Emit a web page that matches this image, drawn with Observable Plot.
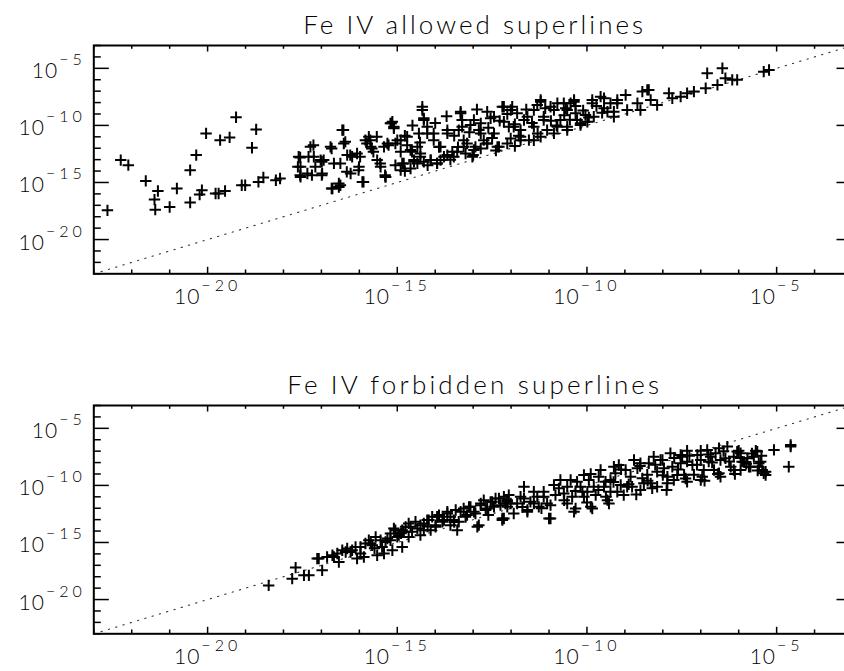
<!DOCTYPE html>
<html><head><meta charset="utf-8">
<script src="https://cdn.jsdelivr.net/npm/d3@7"></script>
<script src="https://cdn.jsdelivr.net/npm/@observablehq/plot@0.6"></script>
<style>
html,body{margin:0;padding:0;background:#fff;overflow:hidden;width:844px;height:671px;}
.panel{position:absolute;left:0;}
.panel svg{max-width:none !important;}
</style></head><body>
<div id="p1" class="panel" style="top:0px"></div>
<div id="p2" class="panel" style="top:330px"></div>
<script>
// ---- data (log10 of values) ----
const allowedLogX = [-22.64,-22.29,-22.09,-21.63,-21.31,-21.40,-21.38,-21.00,-20.81,-20.46,-20.46,-20.30,-20.04,-20.21,-20.15,-19.79,-19.71,-19.54,-19.67,-19.42,-19.25,-18.83,-18.72,-19.10,-19.01,-18.66,-18.53,-18.20,-18.09,-17.56,-17.62,-17.56,-17.34,-17.21,-17.25,-16.99,-16.99,-16.73,-16.50,-16.73,-16.42,-16.37,-16.50,-16.24,-15.98,-15.89,-16.02,-15.71,-15.67,-15.45,-15.32,-15.23,-15.16,-16.33,-16.06,-16.23,-16.94,-17.37,-16.54,-15.80,-15.63,-15.54,
-15.31,-15.35,-15.13,-15.09,-15.00,-14.91,-15.05,-14.83,-14.74,-14.61,-14.56,-14.43,-14.34,-14.30,-14.21,-14.39,-14.12,-14.04,-13.95,-13.77,-13.68,-13.55,-13.33,-13.29,-13.38,-13.25,-13.20,-13.07,-12.94,-12.80,-12.72,-12.63,-12.54,-12.45,-12.36,-12.23,-12.19,-12.06,-12.01,-11.97,-11.84,-11.75,-11.66,-11.53,-11.40,-11.31,-11.22,-11.14,-11.05,-10.87,-10.78,-10.70,-10.56,-10.52,-10.34,-10.30,-10.17,-9.86,-9.82,-9.64,-9.55,-9.38,-9.29,
-14.91,-14.65,-14.47,-14.30,-13.86,-13.68,-13.42,-13.25,-12.98,-12.80,-12.63,-12.10,-11.75,-11.22,-10.87,-10.52,-10.17,-9.99,
-9.55,-9.46,-9.29,-9.20,-8.98,-8.94,-8.67,-8.59,-8.41,-8.32,-8.15,-7.84,-7.75,-7.53,-7.36,-7.18,-6.87,-6.83,-6.56,-6.43,-6.35,-6.17,-6.04,-5.34,-5.20,-10.52,-10.43,-10.04,-9.86,-9.20,-8.54,-8.37,
-17.60,-17.55,-17.55,-17.29,-17.20,-17.16,-17.02,-16.98,-16.76,-16.67,-16.71,-16.54,-16.45,-16.41,-16.32,-16.19,-16.01,-15.92,-15.84,-15.75,-15.70,-15.53,-15.44,-15.31,-15.26,-15.18,-15.09,-15.05,-14.91,-14.87,-14.74,-14.65,-14.56,-14.47,-14.39,-14.34,-14.30,-14.21,-14.12,-14.04,-13.95,-13.86,-13.68,-13.51,-13.33,-13.29,-13.16,-13.02,-12.98,-12.80,-12.63,-12.45,-12.32,-12.19,-12.01,-11.93,-11.75,-11.57,-11.40,-11.22,-11.14,-10.96,-10.78,-10.61,-10.34,-10.26,
-14.80,-14.60,-14.40,-14.00,-13.90,-13.70,-13.50,-13.40,-13.10,-12.90,-12.85,-12.60,-12.50,-12.30,-12.10,-11.90,-11.80,-11.60,-11.45,-11.30,-11.10,-10.95,-10.80,-10.60,-10.45,-10.30,-10.10,-9.95,-9.75,-9.60,
-14.80,-14.20,-13.60,-13.00,-12.40,-11.90,-11.40];
const allowedLogY = [-17.44,-13.04,-13.48,-14.86,-15.74,-16.50,-17.38,-17.15,-15.53,-16.76,-13.92,-12.60,-10.70,-16.06,-15.68,-15.97,-15.97,-15.74,-11.29,-11.05,-9.29,-11.96,-10.35,-15.24,-15.24,-14.95,-14.56,-14.80,-14.65,-14.36,-13.63,-12.81,-12.75,-11.73,-14.36,-14.36,-13.19,-15.53,-15.24,-12.02,-10.41,-11.44,-13.33,-12.60,-12.75,-14.95,-13.92,-11.29,-12.02,-13.33,-14.36,-11.73,-9.82,-14.07,-12.46,-14.21,-13.04,-14.21,-15.09,-11.58,-12.31,-11.00,
-14.51,-11.88,-9.68,-10.26,-11.29,-12.31,-13.48,-13.33,-11.73,-12.31,-13.19,-10.70,-8.36,-9.53,-10.12,-12.75,-13.04,-10.70,-13.33,-12.75,-10.41,-12.31,-8.80,-9.53,-10.41,-11.29,-12.46,-9.97,-11.88,-9.82,-11.29,-8.80,-9.38,-10.70,-11.88,-8.36,-9.68,-10.12,-11.14,-8.36,-8.94,-10.41,-9.53,-11.29,-10.12,-8.21,-7.92,-9.24,-10.41,-8.65,-8.06,-9.53,-8.50,-10.12,-7.92,-8.94,-9.82,-8.06,-9.24,-7.48,-8.50,-8.06,-8.80,
-13.92,-13.77,-13.33,-13.19,-13.04,-12.60,-12.31,-11.88,-12.16,-12.02,-11.58,-11.58,-11.29,-11.00,-10.70,-10.41,-9.97,-9.68,
-7.62,-8.80,-9.24,-8.06,-7.33,-8.65,-8.06,-8.65,-6.89,-7.77,-8.21,-7.18,-7.62,-7.48,-7.18,-7.04,-6.74,-5.43,-6.45,-4.99,-5.87,-6.01,-6.01,-5.29,-5.14,-8.65,-8.06,-9.09,-7.77,-7.77,-7.04,-6.89,
-12.75,-13.63,-14.51,-11.88,-12.75,-13.63,-13.04,-14.21,-11.88,-13.33,-15.53,-15.39,-10.41,-11.58,-12.60,-12.75,-13.63,-14.95,-11.29,-11.00,-11.88,-13.04,-13.63,-14.51,-11.58,-9.82,-10.12,-11.58,-11.29,-13.33,-11.00,-12.16,-13.04,-11.88,-12.46,-8.65,-9.38,-10.70,-13.04,-11.29,-13.33,-11.88,-10.70,-12.75,-8.94,-10.12,-11.58,-12.75,-9.53,-10.70,-11.58,-9.24,-11.88,-8.36,-8.65,-10.12,-11.00,-9.24,-8.65,-7.77,-9.53,-8.36,-10.12,-8.06,-7.77,-9.53,
-10.90,-10.00,-11.50,-9.80,-11.90,-9.20,-10.90,-11.90,-10.60,-8.60,-10.40,-10.20,-11.10,-9.60,-9.00,-9.90,-10.90,-8.60,-9.80,-10.70,-8.50,-9.60,-10.00,-9.10,-9.50,-8.30,-8.70,-9.30,-8.30,-8.90,
-14.00,-13.50,-13.00,-12.60,-12.20,-11.80,-11.30];

const forbiddenLogX = [-18.39,-17.77,-17.68,-17.46,-17.33,-16.98,-17.07,-16.67,-16.54,-16.36,-16.19,-16.06,-15.97,-15.88,-15.70,-15.57,-15.53,-15.35,-15.31,-15.18,-15.13,-15.05,-15.00,-14.87,-14.83,-14.70,-14.65,-14.47,-14.39,-14.30,-14.21,-14.12,-13.99,-13.95,-13.81,-13.68,-13.60,-13.51,-13.42,-13.33,-13.20,-13.11,-12.98,-12.85,-12.80,-12.67,-12.54,-12.45,-12.32,-12.23,-12.15,-12.06,
-12.19,-11.93,-12.10,-11.75,-11.57,-11.40,-11.27,-10.96,-10.96,-10.87,-10.61,-10.43,-10.30,-10.17,-10.08,-9.90,-9.82,-9.64,-9.46,-9.38,-9.16,-9.03,-8.85,-8.76,-8.59,-8.41,-8.24,-8.15,-7.97,-7.80,-7.71,-7.53,-7.36,-7.18,-7.00,-6.83,-6.65,-6.52,-6.48,-6.30,-6.21,-6.00,-5.86,-5.77,-5.55,-5.47,-5.34,-5.29,-5.07,-4.63,-4.68,-6.48,-7.00,-8.50,-9.20,-10.08,
-12.89,-12.23,-11.57,-11.00,-10.34,-9.86,-9.42,-5.29,
-12.01,-11.14,-10.70,-10.52,-9.99,-9.55,-9.29,-8.94,-8.59,-8.32,-8.06,-7.88,-7.44,-7.36,-6.92,-6.74,-6.13,-5.95,-5.69,-5.42,-7.00,-7.53,-11.40,-11.66,-5.95,-5.51,-4.63,
-17.11,-16.85,-16.71,-16.58,-16.45,-16.32,-16.23,-16.10,-15.97,-15.84,-15.75,-15.66,-15.44,-15.40,-15.26,-15.18,-15.09,-14.96,-14.87,-14.78,-14.70,-14.61,-14.52,-14.39,-14.30,-14.17,-14.08,-13.99,-13.90,-13.77,-13.68,-13.60,-13.46,-13.38,-13.25,-13.16,-13.07,-12.94,-12.80,-12.72,-12.63,-12.50,-12.41,-12.28,-12.19,-12.10,
-12.10,-11.84,-11.66,-11.49,-11.31,-11.14,-11.05,-10.83,-10.74,-10.52,-10.39,-10.26,-10.12,-9.95,-9.77,-9.69,-9.51,-9.38,-9.25,-9.11,-8.98,-8.81,-8.67,-8.54,-8.37,-8.28,-8.15,-8.01,-7.88,-7.75,-7.62,-7.49,-7.36,-7.22,-7.09,-6.96,-6.79,-6.61,-6.52,-6.35,-6.13,-6.04,-5.91,-5.73,-5.60,-5.47,-5.38,
-9.90,-9.70,-9.50,-9.30,-9.10,-8.90,-8.70,-8.60,-8.40,-8.20,-8.00,-7.90,-7.70,-7.60,-7.40,-7.30,-7.10,-6.90,-6.80,-6.70,-6.55,-6.40,-6.25,-6.10,-5.95,-5.80,-5.65,-5.50,-5.40,-10.60,-10.30,-10.00,-11.20,-11.70,-12.60,-13.50,-14.20,-14.90,-15.60];
const forbiddenLogY = [-18.76,-18.17,-17.20,-17.88,-17.88,-17.44,-16.41,-16.27,-16.71,-15.83,-15.68,-16.41,-15.39,-16.27,-15.09,-14.51,-16.12,-15.97,-14.95,-14.80,-15.68,-13.92,-14.51,-15.39,-14.07,-14.51,-13.63,-13.77,-14.36,-13.33,-13.04,-13.92,-13.48,-12.75,-13.19,-12.46,-13.48,-13.04,-13.92,-12.31,-12.75,-11.88,-12.31,-13.48,-11.58,-12.16,-11.44,-11.88,-11.14,-12.90,-11.58,-10.85,
-12.90,-12.46,-11.29,-11.00,-12.31,-10.56,-11.88,-12.90,-11.73,-9.97,-10.70,-9.53,-12.02,-10.12,-9.09,-11.88,-10.12,-8.65,-11.29,-9.53,-8.21,-10.85,-9.24,-7.77,-10.41,-9.06,-7.48,-10.12,-8.50,-7.18,-9.53,-8.06,-6.96,-9.06,-7.77,-6.89,-8.65,-6.74,-7.77,-6.60,-8.36,-6.96,-7.94,-7.62,-6.96,-8.36,-8.94,-8.80,-6.89,-6.45,-8.36,-9.24,-9.53,-9.82,-10.56,-11.00,
-13.63,-13.04,-12.16,-12.90,-12.31,-12.02,-11.58,-9.09,
-11.58,-11.00,-9.53,-11.58,-10.56,-10.12,-8.36,-10.12,-8.06,-9.82,-7.77,-9.24,-9.06,-7.92,-8.65,-7.48,-7.48,-8.65,-8.36,-7.92,-6.96,-7.33,-11.58,-10.12,-7.18,-7.04,-6.60,
-16.41,-16.27,-16.12,-15.97,-15.68,-15.53,-15.83,-15.39,-15.97,-15.09,-14.80,-15.24,-14.80,-15.39,-14.65,-14.21,-13.77,-14.36,-13.92,-13.63,-13.33,-14.07,-13.19,-13.48,-13.92,-13.04,-12.75,-13.63,-12.60,-13.04,-12.31,-12.75,-12.16,-13.19,-12.02,-12.60,-11.88,-12.46,-11.73,-11.29,-12.02,-11.44,-11.14,-11.73,-11.00,-11.44,
-11.88,-11.58,-11.14,-11.44,-11.00,-10.56,-11.58,-10.85,-10.26,-10.12,-11.00,-9.68,-10.56,-9.53,-10.85,-9.24,-9.68,-10.56,-8.94,-9.97,-8.65,-10.12,-8.50,-9.38,-8.06,-10.26,-8.80,-7.77,-9.82,-8.36,-9.09,-7.48,-9.68,-8.21,-7.33,-9.24,-7.92,-7.18,-8.94,-7.62,-8.65,-7.04,-7.92,-8.36,-7.48,-8.06,-8.65,
-9.00,-10.40,-11.00,-9.70,-8.60,-9.90,-10.80,-8.30,-9.60,-8.20,-9.10,-10.40,-7.60,-8.60,-9.40,-7.40,-8.20,-9.60,-7.30,-8.00,-9.00,-7.00,-7.90,-9.00,-7.60,-8.10,-7.20,-8.70,-7.40,-11.30,-10.50,-11.50,-12.00,-11.90,-12.60,-13.20,-13.60,-14.20,-15.50];

const axisLimits = [1e-23, 1e-3];
const majorTickExponents = [-20, -15, -10, -5];
const minorTickExponents = [-23, -22, -21, -19, -18, -17, -16, -14, -13, -12, -11, -9, -8, -7, -6, -4, -3];
const panelTitles = ["Fe IV allowed superlines", "Fe IV forbidden superlines"];

// ---- drawing ----
const FONT = '"Lato", "DejaVu Sans", sans-serif';
const plusSymbol = {
  draw(context, size) {
    const r = Math.sqrt(size / Math.PI);
    context.moveTo(-r, 0); context.lineTo(r, 0);
    context.moveTo(0, -r); context.lineTo(0, r);
  }
};
const fmtExp = e => `10^${e < 0 ? "\u2212" : ""}${Math.abs(e)}`;

function panel(el, title, lx, ly, cfg) {
  const W = 860, ML = 93.3, MR = W - 852;
  const plotH = 228.3, plotW = W - ML - MR;
  const MT = cfg.marginTop, H = cfg.height, MB = H - MT - plotH;
  const data = lx.map((v, i) => ({x: 10 ** v, y: 10 ** ly[i]}));
  const majors = majorTickExponents.map(e => 10 ** e);
  const minors = minorTickExponents.map(e => 10 ** e);
  const tk = {stroke: "black", strokeWidth: 1.5};
  const svg = Plot.plot({
    width: W, height: H,
    marginLeft: ML, marginRight: MR, marginTop: MT, marginBottom: MB,
    style: {fontFamily: FONT, fontWeight: "300", background: "white", maxWidth: "none", overflow: "visible", color: "black"},
    x: {type: "log", domain: axisLimits, axis: null},
    y: {type: "log", domain: axisLimits, axis: null},
    marks: [
      Plot.line(axisLimits, {x: d => d, y: d => d, stroke: "#333", strokeWidth: 1.1, strokeDasharray: "1.3 6.3"}),
      Plot.dot(data, {x: "x", y: "y", r: 5.7, symbol: plusSymbol, stroke: "black", strokeWidth: 2, fill: "none"}),
      Plot.tickX(majors, {x: d => d, insetTop: plotH - 6.5, ...tk}),
      Plot.tickX(minors, {x: d => d, insetTop: plotH - 3.8, ...tk}),
      Plot.tickX(majors, {x: d => d, insetBottom: plotH - 6.5, ...tk}),
      Plot.tickX(minors, {x: d => d, insetBottom: plotH - 3.8, ...tk}),
      Plot.tickY(majors, {y: d => d, insetRight: plotW - 15.5, ...tk}),
      Plot.tickY(minors, {y: d => d, insetRight: plotW - 7.5, ...tk}),
      Plot.tickY(majors, {y: d => d, insetLeft: plotW - 15.5, ...tk}),
      Plot.tickY(minors, {y: d => d, insetLeft: plotW - 7.5, ...tk}),
      Plot.frame({stroke: "black", strokeWidth: 2}),
      Plot.text(majorTickExponents, {x: e => 10 ** e, text: fmtExp, frameAnchor: "bottom", dy: 30, lineAnchor: "bottom", textAnchor: "middle", fontSize: 21}),
      Plot.text(majorTickExponents, {y: e => 10 ** e, text: fmtExp, frameAnchor: "left", dx: -8, dy: 10, lineAnchor: "bottom", textAnchor: "end", fontSize: 21}),
      Plot.text([title], {frameAnchor: "top", dy: -12, lineAnchor: "bottom", fontSize: 26})
    ]
  });
  svg.querySelectorAll("text").forEach(t => {
    const s = t.textContent;
    if (s.includes("^")) {
      const [base, exp] = s.split("^");
      t.textContent = base;
      t.setAttribute("letter-spacing", "1");
      const ts = document.createElementNS("http://www.w3.org/2000/svg", "tspan");
      ts.setAttribute("dy", "-13");
      ts.setAttribute("dx", "1");
      ts.setAttribute("font-size", "16");
      ts.setAttribute("letter-spacing", "4");
      ts.textContent = exp;
      t.appendChild(ts);
    } else if (s === title) {
      t.setAttribute("textLength", cfg.titleWidth);
      t.setAttribute("lengthAdjust", "spacing");
    }
  });
  document.getElementById(el).appendChild(svg);
}

panel("p1", panelTitles[0], allowedLogX, allowedLogY, {height: 330, marginTop: 45, titleWidth: 340});
panel("p2", panelTitles[1], forbiddenLogX, forbiddenLogY, {height: 341, marginTop: 75, titleWidth: 372});
</script>
</body></html>
